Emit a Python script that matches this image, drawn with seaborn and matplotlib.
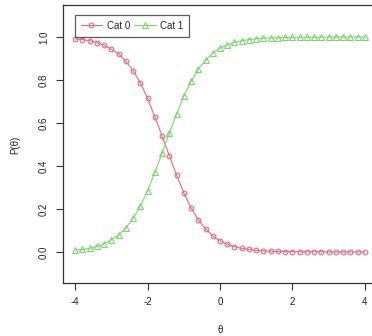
import numpy as np
import pandas as pd
import seaborn as sns
import matplotlib.pyplot as plt

# theta grid and category probabilities
theta = [-4.0, -3.8, -3.6, -3.4, -3.2, -3.0, -2.8, -2.6, -2.4, -2.2,
         -2.0, -1.8, -1.6, -1.4, -1.2, -1.0, -0.8, -0.6, -0.4, -0.2,
         0.0, 0.2, 0.4, 0.6, 0.8, 1.0, 1.2, 1.4, 1.6, 1.8,
         2.0, 2.2, 2.4, 2.6, 2.8, 3.0, 3.2, 3.4, 3.6, 3.8, 4.0]
cat0 = [0.991, 0.988, 0.983, 0.974, 0.962, 0.943, 0.921, 0.887, 0.843, 0.786,
        0.715, 0.629, 0.540, 0.448, 0.358, 0.275, 0.206, 0.150, 0.108, 0.075,
        0.052, 0.036, 0.025, 0.017, 0.012, 0.008, 0.005, 0.004, 0.003, 0.002,
        0.002, 0.001, 0.001, 0.001, 0.001, 0.000, 0.000, 0.000, 0.000, 0.000, 0.000]
cat1 = [0.009, 0.012, 0.017, 0.026, 0.038, 0.057, 0.079, 0.113, 0.157, 0.214,
        0.285, 0.371, 0.460, 0.552, 0.642, 0.725, 0.794, 0.850, 0.892, 0.925,
        0.948, 0.964, 0.975, 0.983, 0.988, 0.992, 0.995, 0.996, 0.997, 0.998,
        0.998, 0.999, 0.999, 0.999, 0.999, 1.000, 1.000, 1.000, 1.000, 1.000, 1.000]
xticks = [-4, -2, 0, 2, 4]
yticks = [0.0, 0.2, 0.4, 0.6, 0.8, 1.0]

sns.set_style("white")
plt.rcParams['font.family'] = ['Liberation Sans', 'DejaVu Sans']

W, H = 372, 336
fig = plt.figure(figsize=(W / 100, H / 100), dpi=100)
ax = fig.add_axes([63 / W, 53 / H, 314 / W, 278 / H])

red = '#E26B80'
green = '#7ED66E'
sns.lineplot(x=theta, y=cat0, ax=ax, color=red, marker='o', markersize=3.4,
             markerfacecolor='none', markeredgecolor=red, markeredgewidth=0.8,
             linewidth=0.8, label='Cat 0')
sns.lineplot(x=theta, y=cat1, ax=ax, color=green, marker='^', markersize=4,
             markerfacecolor='none', markeredgecolor=green, markeredgewidth=0.8,
             linewidth=0.8, label='Cat 1')

ax.set_xlim(-4.337, 4.337)
ax.set_ylim(-0.144, 1.149)
ax.set_xticks(xticks)
ax.set_xticklabels([str(t) for t in xticks])
ax.set_yticks(yticks)
ax.set_yticklabels([f"{t:.1f}" for t in yticks], rotation=90, va='center')
ax.tick_params(direction='out', length=5, width=0.8, labelsize=7, color='#333333',
               labelcolor='#222222', left=True, bottom=True)
ax.tick_params(axis='x', pad=5)
ax.tick_params(axis='y', pad=5)
for s in ax.spines.values():
    s.set_color('#333333')
    s.set_linewidth(0.9)

ax.set_xlabel('θ', fontsize=7, color='#222222')
ax.set_ylabel('P(θ)', fontsize=7, color='#222222')
ax.xaxis.set_label_coords(0.5, -0.151)
ax.yaxis.set_label_coords(-0.137, 0.496)

leg = ax.legend(loc='upper left', bbox_to_anchor=(0.038, 0.964), ncol=2,
                fontsize=7, frameon=True, fancybox=False, handlelength=2.2,
                columnspacing=0.4, handletextpad=0.5, borderpad=0.6,
                borderaxespad=0)
leg.get_frame().set_edgecolor('#333333')
leg.get_frame().set_linewidth(0.9)

fig.savefig('out.png', dpi=100)
